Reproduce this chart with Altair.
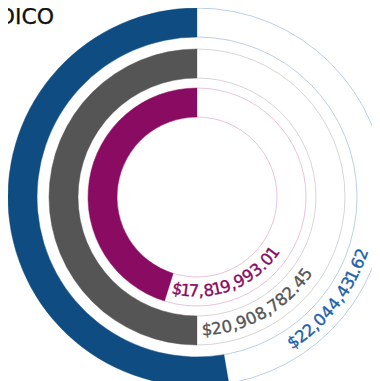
import math
import altair as alt
import pandas as pd

# ---- data ----
series = ["azul", "gris", "morado"]
amounts = [22044431.62, 20908782.45, 17819993.01]
sweep_pct = [52.7, 50.0, 45.2]          # bar length, % of a full turn
title_text = "DICO"

labels = ["${:,.2f}".format(a) for a in amounts]

# ---- layout / style ----
CX, CY = 189, 189
OUTER = [189, 148, 109]
BAND = 29
BAR_COLORS = ["#0f4c81", "#555555", "#8a0b62"]
LABEL_COLORS = ["#1c62aa", "#555555", "#8a0b62"]
TRACK_COLORS = ["#9fbad8", "#c4c4c4", "#dfa9cc"]
LABEL_GAP_DEG = [23.9, 4.3, 5.2]
FONT = "DejaVu Sans"
FS = 16.5
ADV = {"$": 0.60, "0": 0.66, "1": 0.42, "2": 0.59, "3": 0.59, "4": 0.64,
       "5": 0.60, "6": 0.62, "7": 0.59, "8": 0.63, "9": 0.62, ",": 0.30, ".": 0.30}

theta_scale = alt.Scale(domain=[0, 100], range=[2 * math.pi, 0])

layers = []
# tracks first
for i, name in enumerate(series):
    df = pd.DataFrame({"serie": [name], "start": [0.0], "full": [100.0]})
    layers.append(
        alt.Chart(df).mark_arc(outerRadius=OUTER[i], innerRadius=OUTER[i] - BAND,
                               fill="transparent", stroke=TRACK_COLORS[i], strokeWidth=0.7)
        .encode(theta=alt.Theta("start:Q", scale=theta_scale, stack=False),
                theta2="full:Q", x=alt.value(CX), y=alt.value(CY))
    )
# bars
for i, name in enumerate(series):
    df = pd.DataFrame({"serie": [name], "start": [0.0], "end": [sweep_pct[i]],
                       "monto": [amounts[i]]})
    layers.append(
        alt.Chart(df).mark_arc(outerRadius=OUTER[i], innerRadius=OUTER[i] - BAND,
                               fill=BAR_COLORS[i], stroke=BAR_COLORS[i], strokeWidth=0.3)
        .encode(theta=alt.Theta("start:Q", scale=theta_scale, stack=False),
                theta2="end:Q", x=alt.value(CX), y=alt.value(CY))
    )
# curved labels, one glyph per row
for i, name in enumerate(series):
    text = labels[i]
    r = OUTER[i] - BAND / 2
    rows = []
    pos = 0.0
    first_half = ADV.get(text[0], 0.6) * FS / 2
    for ch in text:
        w = ADV.get(ch, 0.6) * FS
        centre = pos + w / 2 - first_half
        deg = LABEL_GAP_DEG[i] + math.degrees(centre / r)
        v = sweep_pct[i] + deg / 3.6
        phi = 360 * (1 - v / 100)
        rows.append({"serie": name, "ch": ch, "v": v, "rot": (phi - 180) % 360})
        pos += w
    df = pd.DataFrame(rows)
    layers.append(
        alt.Chart(df).mark_text(radius=r, font=FONT, fontSize=FS, align="center",
                                baseline="middle", fill=LABEL_COLORS[i],
                                stroke=LABEL_COLORS[i], strokeWidth=0.35)
        .encode(theta=alt.Theta("v:Q", scale=theta_scale, stack=False),
                angle=alt.Angle("rot:Q", scale=None),
                text="ch:N", x=alt.value(CX), y=alt.value(CY))
    )

# title
layers.append(
    alt.Chart(pd.DataFrame({"t": [title_text]})).mark_text(
        align="left", baseline="alphabetic", font=FONT, fontSize=22, fill="#111111",
        stroke="#111111", strokeWidth=0.3)
    .encode(text="t:N", x=alt.value(-10), y=alt.value(16))
)

chart = alt.layer(*layers).properties(
    width=364, height=373, autosize="none", padding=0
).configure_view(stroke="transparent")

chart.save("out.html", embed_options={"renderer": "svg", "actions": False})
